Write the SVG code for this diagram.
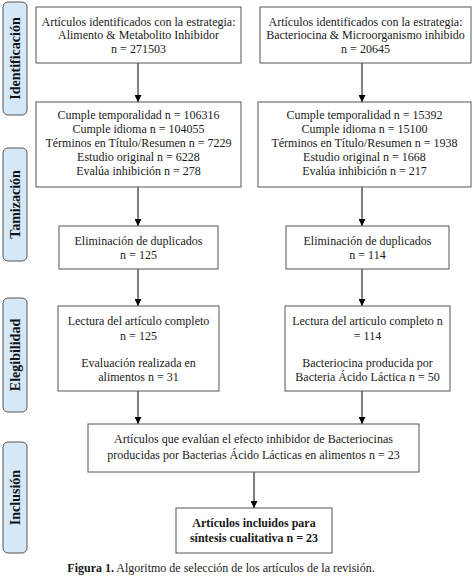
<svg xmlns="http://www.w3.org/2000/svg" width="474" height="576" viewBox="0 0 474 576">
<defs>
<marker id="ah" viewBox="0 0 10 10" refX="10" refY="5" markerWidth="7" markerHeight="7" markerUnits="userSpaceOnUse" orient="auto">
<path d="M0,0 L10,5 L0,10 z" fill="#000"/>
</marker>
<style>
.box{fill:#fff;stroke:#555;stroke-width:1}
.side{fill:#d5e8f7;stroke:#555;stroke-width:1}
.t{font-family:"Liberation Serif","Times New Roman",serif;font-size:12px;fill:#1a1a1a;text-anchor:middle}
.b{font-weight:bold}
.s{font-family:"Liberation Serif","Times New Roman",serif;font-size:14px;font-weight:bold;fill:#111;text-anchor:middle}
.c{stroke:#000;stroke-width:1;fill:none;marker-end:url(#ah)}
</style>
</defs>
<rect width="474" height="576" fill="#fff"/>
<g id="side-identificacion"><rect class="side" x="3" y="2" width="24" height="113" rx="5"/><text class="s" transform="translate(20,58.5) rotate(-90)">Identificación</text></g>
<g id="side-tamizacion"><rect class="side" x="3" y="148" width="24" height="113" rx="5"/><text class="s" transform="translate(20,204.5) rotate(-90)">Tamización</text></g>
<g id="side-elegibilidad"><rect class="side" x="3" y="298" width="24" height="114" rx="5"/><text class="s" transform="translate(20,355) rotate(-90)">Elegibilidad</text></g>
<g id="side-inclusion"><rect class="side" x="3" y="442" width="24" height="111" rx="5"/><text class="s" transform="translate(20,497.5) rotate(-90)">Inclusión</text></g>

<g id="connectors">
<line class="c" x1="138" y1="63" x2="138" y2="102"/>
<line class="c" x1="362" y1="63" x2="362" y2="102"/>
<line class="c" x1="138" y1="187" x2="138" y2="226"/>
<line class="c" x1="362" y1="187" x2="362" y2="226"/>
<line class="c" x1="138" y1="269" x2="138" y2="306"/>
<line class="c" x1="362" y1="269" x2="362" y2="306"/>
<line class="c" x1="138" y1="391" x2="138" y2="424"/>
<line class="c" x1="362" y1="391" x2="362" y2="424"/>
<line class="c" x1="254" y1="472" x2="254" y2="508"/>
</g>

<g id="n1"><rect class="box" x="36" y="7" width="205" height="56"/>
<text class="t" x="138.5" y="26">Artículos identificados con la estrategia:</text>
<text class="t" x="138.5" y="39">Alimento &amp; Metabolito Inhibidor</text>
<text class="t" x="138.5" y="53">n = 271503</text></g>
<g id="n2"><rect class="box" x="260" y="7" width="211" height="56"/>
<text class="t" x="365.5" y="26">Artículos identificados con la estrategia:</text>
<text class="t" x="365.5" y="39">Bacteriocina &amp; Microorganismo inhibido</text>
<text class="t" x="365.5" y="53">n = 20645</text></g>

<g id="n3"><rect class="box" x="36" y="102" width="205" height="85"/>
<text class="t" x="138.5" y="119">Cumple temporalidad n = 106316</text>
<text class="t" x="138.5" y="133">Cumple idioma  n = 104055</text>
<text class="t" x="138.5" y="147">Términos en Título/Resumen  n = 7229</text>
<text class="t" x="138.5" y="161">Estudio original  n = 6228</text>
<text class="t" x="138.5" y="175">Evalúa inhibición  n = 278</text></g>
<g id="n4"><rect class="box" x="258" y="102" width="213" height="85"/>
<text class="t" x="364.5" y="119">Cumple temporalidad n = 15392</text>
<text class="t" x="364.5" y="133">Cumple idioma  n = 15100</text>
<text class="t" x="364.5" y="147">Términos en Título/Resumen  n = 1938</text>
<text class="t" x="364.5" y="161">Estudio original  n = 1668</text>
<text class="t" x="364.5" y="175">Evalúa inhibición  n = 217</text></g>

<g id="n5"><rect class="box" x="59" y="226" width="159" height="43"/>
<text class="t" x="138.5" y="245">Eliminación de duplicados</text>
<text class="t" x="138.5" y="259">n = 125</text></g>
<g id="n6"><rect class="box" x="286" y="226" width="163" height="43"/>
<text class="t" x="367.5" y="245">Eliminación de duplicados</text>
<text class="t" x="367.5" y="259">n = 114</text></g>

<g id="n7"><rect class="box" x="58" y="306" width="161" height="85"/>
<text class="t" x="138.5" y="325">Lectura del artículo completo</text>
<text class="t" x="138.5" y="340">n = 125</text>
<text class="t" x="138.5" y="367">Evaluación realizada en</text>
<text class="t" x="138.5" y="381">alimentos  n = 31</text></g>
<g id="n8"><rect class="box" x="285" y="306" width="165" height="85"/>
<text class="t" x="367.5" y="325">Lectura del articulo completo  n</text>
<text class="t" x="367.5" y="340">= 114</text>
<text class="t" x="367.5" y="367">Bacteriocina producida por</text>
<text class="t" x="367.5" y="381">Bacteria Ácido Láctica  n = 50</text></g>

<g id="n9"><rect class="box" x="88" y="424" width="331" height="48"/>
<text class="t" x="253.5" y="443">Artículos que evalúan el efecto inhibidor de Bacteriocinas</text>
<text class="t" x="253.5" y="459">producidas por Bacterias Ácido Lácticas en alimentos   n = 23</text></g>

<g id="n10"><rect class="box" x="176" y="508" width="156" height="45"/>
<text class="t b" x="254" y="527">Artículos incluidos para</text>
<text class="t b" x="254" y="542">síntesis cualitativa  n = 23</text></g>

<text class="t" x="221" y="572"><tspan font-weight="bold">Figura 1.</tspan> Algoritmo de selección de los artículos de la revisión.</text>
</svg>
